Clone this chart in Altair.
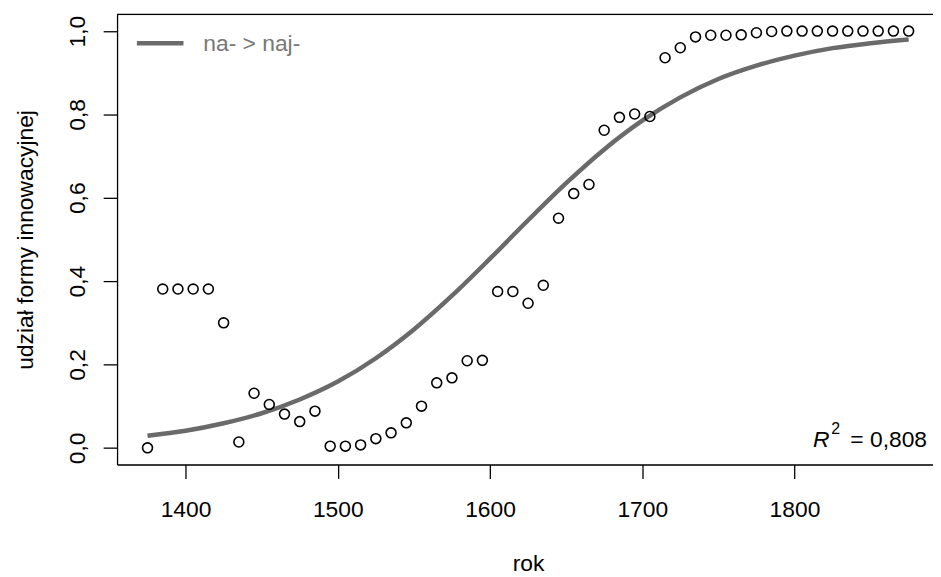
import altair as alt
import pandas as pd

# observed shares (one point per decade)
years = list(range(1375, 1876, 10))
shares = [0.000, 0.381, 0.381, 0.381, 0.381, 0.300, 0.014, 0.131, 0.104, 0.081,
          0.063, 0.088, 0.004, 0.004, 0.007, 0.022, 0.036, 0.060, 0.100, 0.156,
          0.168, 0.209, 0.210, 0.375, 0.375, 0.347, 0.390, 0.551, 0.610, 0.632,
          0.762, 0.793, 0.801, 0.795, 0.936, 0.960, 0.986, 0.990, 0.990, 0.991,
          0.996, 0.999, 1.000, 1.000, 1.000, 1.000, 1.000, 1.000, 1.000, 1.000, 1.000]

# fitted curve
curve_years = list(range(1375, 1876, 25))
curve_vals = [0.029, 0.041, 0.059, 0.083, 0.116, 0.159, 0.215, 0.284, 0.365, 0.454,
              0.546, 0.635, 0.716, 0.785, 0.841, 0.885, 0.917, 0.941, 0.959, 0.971, 0.980]

x_ticks = [1400, 1500, 1600, 1700, 1800]
y_ticks = [0.0, 0.2, 0.4, 0.6, 0.8, 1.0]
legend_label = "na- > naj-"
r2_text = "= 0,808"

pts = pd.DataFrame({"rok": years, "udzial": shares})
crv = pd.DataFrame({"rok": curve_years, "udzial": curve_vals})
one = pd.DataFrame({"k": [0]})

W, H = 823, 454
FONT = "Liberation Sans"
CURVE = "#6a6a6a"

xscale = alt.Scale(domain=[1355, 1891], nice=False, zero=False)
yscale = alt.Scale(domain=[-0.04, 1.04], nice=False, zero=False)

xaxis = alt.Axis(values=x_ticks, format="d", grid=False, tickSize=14, tickColor="black",
                 tickWidth=1.3, domainColor="black", domainWidth=1.3,
                 labelFontSize=23, labelFont=FONT, labelColor="black",
                 labelBaseline="alphabetic", labelPadding=38.5, labelFlush=False,
                 title="rok", titleFontSize=23, titleFont=FONT, titleFontWeight="normal",
                 titleColor="black", titleBaseline="alphabetic", titleAlign="center",
                 titleX=414.6, titleY=106.5)
yaxis = alt.Axis(values=y_ticks, grid=False, tickSize=14, tickColor="black",
                 tickWidth=1.3, domainColor="black", domainWidth=1.3,
                 labelExpr="replace(format(datum.value, '.1f'), '.', ',')",
                 labelFontSize=23, labelFont=FONT, labelColor="black",
                 labelAngle=270, labelAlign="center", labelBaseline="alphabetic",
                 labelPadding=19, labelFlush=False,
                 title="udział formy innowacyjnej", titleFontSize=23, titleFont=FONT,
                 titleFontWeight="normal", titleColor="black", titleAngle=270,
                 titleAlign="center", titleBaseline="alphabetic",
                 titleX=-85.7, titleY=227)

line = alt.Chart(crv).mark_line(color=CURVE, strokeWidth=4.5, interpolate="monotone").encode(
    x=alt.X("rok:Q", scale=xscale, axis=xaxis),
    y=alt.Y("udzial:Q", scale=yscale, axis=yaxis),
)
points = alt.Chart(pts).mark_point(shape="circle", filled=False, color="black",
                                   size=100, strokeWidth=1.6, opacity=1).encode(
    x=alt.X("rok:Q", scale=xscale),
    y=alt.Y("udzial:Q", scale=yscale),
)

top_border = alt.Chart(one).mark_rule(color="black", strokeWidth=1.3).encode(
    x=alt.value(0), x2=alt.value(W), y=alt.value(0))

leg_line = alt.Chart(one).mark_rule(color=CURVE, strokeWidth=4.5).encode(
    x=alt.value(20), x2=alt.value(67), y=alt.value(29))
leg_text = alt.Chart(one).mark_text(text=legend_label, font=FONT, fontSize=23, color="#777777",
                                    align="left", baseline="alphabetic").encode(
    x=alt.value(87), y=alt.value(37.3))

r_text = alt.Chart(one).mark_text(text="R", font=FONT, fontSize=23, fontStyle="italic",
                                  color="black", align="left", baseline="alphabetic").encode(
    x=alt.value(702), y=alt.value(436.3))
sup_text = alt.Chart(one).mark_text(text="2", font=FONT, fontSize=16, color="black",
                                    align="left", baseline="alphabetic").encode(
    x=alt.value(720.3), y=alt.value(423))
val_text = alt.Chart(one).mark_text(text=r2_text, font=FONT, fontSize=23, color="black",
                                    align="right", baseline="alphabetic").encode(
    x=alt.value(817), y=alt.value(436.3))

chart = alt.layer(line, points, top_border, leg_line, leg_text, r_text, sup_text, val_text).properties(
    width=W, height=H,
    autosize=alt.AutoSizeParams(type="none"),
    padding={"left": 110, "top": 4, "right": 0, "bottom": 111},
    background="white",
).configure_view(strokeWidth=0).configure(font=FONT)

chart.save("out.html", embed_options={"renderer": "svg", "actions": False})
